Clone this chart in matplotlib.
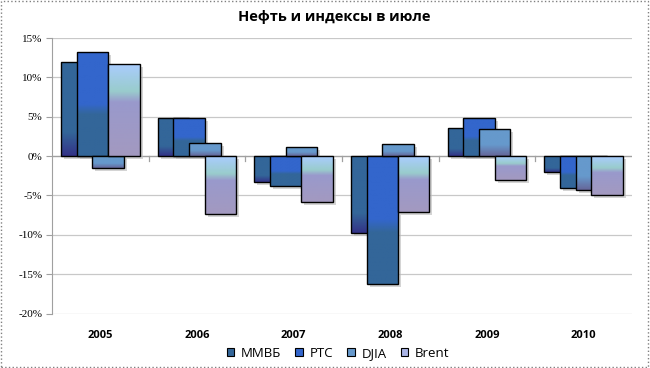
import matplotlib
matplotlib.use("Agg")
import matplotlib.pyplot as plt
import numpy as np
from matplotlib.patches import Patch, Rectangle
from matplotlib.colors import LinearSegmentedColormap
import matplotlib.transforms as mtransforms

plt.rcParams['font.family'] = ['Open Sans', 'DejaVu Sans']

years = ['2005', '2006', '2007', '2008', '2009', '2010']
series = ['ММВБ', 'РТС', 'DJIA', 'Brent']
mmvb = [11.9, 4.9, -3.3, -9.8, 3.6, -2.0]
rts = [13.2, 4.8, -3.8, -16.3, 4.9, -4.0]
djia = [-1.5, 1.7, 1.2, 1.5, 3.5, -4.3]
brent = [11.7, -7.3, -5.8, -7.1, -3.0, -4.9]
values = [mmvb, rts, djia, brent]

# gradient stops (top -> bottom) for each series
grads = [
    [(0.0, '#336699'), (0.75, '#336699'), (1.0, '#333388')],
    [(0.0, '#3366cc'), (0.5, '#3366cc'), (0.6, '#336699'), (1.0, '#336699')],
    [(0.0, '#6699cc'), (0.6, '#6699cc'), (1.0, '#666699')],
    [(0.0, '#aaccff'), (0.3, '#99cccc'), (0.42, '#9999cc'), (1.0, '#a399c0')],
]
legend_colors = ['#336699', '#3366cc', '#6699cc', '#aab4e6']

fig = plt.figure(figsize=(6.5, 3.68), dpi=100)
ax = fig.add_axes([0.08, 0.148, 0.892, 0.7486])

width = 0.326
step = 0.162
x = np.arange(len(years))

for i, vals in enumerate(values):
    cmap = LinearSegmentedColormap.from_list('g%d' % i, grads[i])
    pos = x + (i - 1.5) * step
    bars = ax.bar(pos, vals, width=width, facecolor='none', edgecolor='black',
                  linewidth=1.0, zorder=3 + i * 2 + 1)
    for b in bars:
        bx, by = b.get_x(), b.get_y()
        bw, bh = b.get_width(), b.get_height()
        y0, y1 = min(by, by + bh), max(by, by + bh)
        off = mtransforms.offset_copy(ax.transData, fig=fig, x=3, y=-3, units='dots')
        sh = Rectangle((bx, y0), bw, y1 - y0, transform=off, facecolor='#b8b8b8',
                       edgecolor='none', alpha=0.6, zorder=2)
        ax.add_patch(sh)
        grad = np.linspace(0, 1, 100).reshape(-1, 1)
        im = ax.imshow(grad, cmap=cmap, aspect='auto', extent=(bx, bx + bw, y0, y1),
                       origin='upper', zorder=3 + i * 2, interpolation='bilinear')
        im.set_clip_path(b)

ax.set_xlim(-0.5, 5.5)
ax.set_ylim(-20, 15)
ax.set_yticks(np.arange(-20, 16, 5))
ax.set_yticklabels(['%d%%' % v for v in np.arange(-20, 16, 5)], fontsize=8,
                   family=['Liberation Serif', 'DejaVu Serif'])
ax.yaxis.grid(True, color='#c8c8c8', linewidth=0.9, zorder=0)
ax.set_axisbelow(True)
for s in ['top', 'right', 'bottom']:
    ax.spines[s].set_visible(False)
ax.spines['left'].set_color('#a0a0a0')
ax.tick_params(axis='y', length=4, color='#a0a0a0', pad=3)
ax.set_xticks([])
ax.axhline(0, color='#a0a0a0', linewidth=0.9, zorder=1)
for b in np.arange(0.5, 5.5, 1.0):
    ax.plot([b, b], [0, -0.6], color='#a0a0a0', linewidth=0.9, zorder=1)
for xi, yl in zip(x, years):
    ax.text(xi, -22.8, yl, ha='center', va='center', fontsize=8, fontweight='bold')

fig.text(0.515, 0.955, 'Нефть и индексы в июле', ha='center', va='center',
         fontsize=10.5, fontweight='bold')

handles = [Patch(facecolor=c, edgecolor='black', linewidth=0.8) for c in legend_colors]
fig.legend(handles, series, loc='center', bbox_to_anchor=(0.52, 0.04), ncol=4,
           frameon=False, fontsize=9.5, handlelength=0.55, handleheight=0.55,
           handletextpad=0.5, columnspacing=1.1, borderaxespad=0)

border = Rectangle((0.002, 0.003), 0.995, 0.993, transform=fig.transFigure,
                   fill=False, edgecolor='#808080', linestyle=':', linewidth=1)
fig.patches.append(border)

fig.savefig('out.png', dpi=100)
